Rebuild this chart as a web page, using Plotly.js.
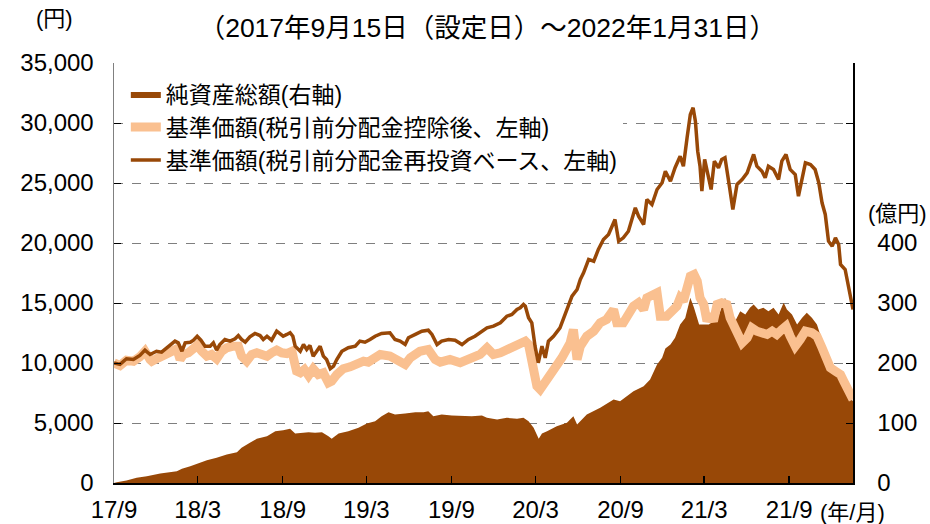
<!DOCTYPE html>
<html><head><meta charset="utf-8">
<script src="https://cdn.plot.ly/plotly-3.0.1.min.js"></script>
<style>html,body{margin:0;padding:0;background:#fff}#chart{width:930px;height:524px}</style>
</head><body><div id="chart"></div>
<script>
// Launch date and end date
const launchDate = '2017-09-15';
const endDate = '2022-01-31';

// 基準価額（税引前分配金再投資ベース） : days since launch / yen
const reinvDays = [
0,13,27,42,56,67,78,92,103,118,
132,139,147,154,165,172,180,188,197,208,
215,222,229,240,251,262,269,276,284,294,
305,316,323,331,341,352,359,366,374,381,
387,392,403,410,417,424,431,439,446,453,
460,468,475,482,493,507,522,532,543,554,
565,579,597,608,619,630,637,652,666,680,
688,699,709,724,738,753,767,781,796,807,
821,836,850,861,872,879,886,890,897,904,
911,918,926,933,940,951,965,980,991,1002,
1009,1016,1027,1038,1048,1059,1070,1084,1092,1102,
1113,1128,1135,1146,1153,1164,1175,1186,1193,1204,
1214,1225,1232,1240,1247,1253,1258,1263,1268,1272,
1278,1285,1292,1299,1308,1315,1322,1331,1339,1348,
1359,1370,1379,1384,1391,1402,1409,1416,1427,1438,
1445,1454,1463,1474,1481,1489,1496,1507,1517,1525,
1532,1539,1546,1554,1561,1568,1572,1582,1593,1599];
const reinvNav = [
10000,9880,10350,10290,10630,11070,10710,10980,10900,11400,
11820,11680,10980,11680,11730,11900,12230,11900,11400,11400,
11680,11070,11540,11960,11820,12020,12290,11960,11730,12180,
12460,12290,11960,12230,11900,12650,12430,12230,12380,12520,
12230,11400,10980,11540,11130,11460,10570,10980,11400,10570,
10290,9520,9730,10290,10980,11270,11400,11820,11730,11960,
12230,12460,12520,11960,11820,11540,12100,12380,12650,12730,
12380,11540,11820,11960,11900,11540,11960,12230,12650,12930,
13070,13350,13900,14040,14460,14600,14880,14730,13770,13350,
11400,10020,11400,10430,11820,12230,12930,14460,15570,16130,
16960,17520,18630,18480,19460,20290,20710,21960,20150,20430,
20980,22930,22230,21540,23630,23210,24460,25020,25980,25150,
26270,27230,26400,28770,30710,31270,30150,27650,26400,24320,
26960,25710,24460,26820,26270,26960,27100,24880,22790,24880,
25290,25850,26960,27380,26400,25980,25430,26400,26130,25290,
26820,27380,26130,25710,23900,25570,26680,26540,26130,25020,
23350,22380,20150,19730,20430,19880,18210,17790,15710,14460];

// 基準価額（税引前分配金控除後） : days since launch / yen
const navDays = [
0,13,27,42,56,67,78,82,96,110,
125,136,143,150,161,172,180,190,201,211,
222,233,244,258,269,276,287,298,309,320,
331,341,352,363,374,385,390,395,403,412,
421,431,442,453,464,471,482,496,511,525,
540,550,565,576,597,619,630,641,662,680,
695,706,727,749,771,792,807,821,836,854,
872,890,897,906,915,922,937,951,969,987,
994,1002,1009,1023,1038,1052,1066,1081,1088,1102,
1124,1135,1146,1153,1175,1182,1196,1218,1225,1232,
1240,1247,1255,1262,1268,1276,1283,1290,1297,1305,
1315,1326,1333,1341,1348,1359,1370,1380,1391,1402,
1413,1424,1434,1445,1454,1463,1474,1485,1496,1510,
1521,1532,1539,1550,1561,1572,1579,1590,1599];
const navValues = [
10000,9790,10230,10150,10520,10980,10290,10150,10430,10630,
10900,11180,10290,10710,10850,11130,11460,10980,10570,10710,
10350,10980,11270,11400,11400,10570,10150,10710,10850,10710,
10570,10850,11070,10850,10790,10980,10020,9320,9180,9460,
8960,9520,9040,9180,8350,8480,9040,9520,9680,9880,
10150,10070,10350,10710,10570,10150,9880,10430,10980,11130,
10290,10070,10290,10020,10430,10710,11270,10710,10850,11130,
11400,11820,11540,10020,8070,7790,8630,9320,10430,11680,
12790,10290,11400,12230,12650,13350,13630,14460,13350,13350,
14730,15020,14460,15430,15850,13900,13900,14730,15430,15150,
16270,17230,17380,16820,15430,14880,13480,14040,13480,14880,
15020,14880,13770,13210,12790,11680,12100,12930,12650,12520,
12380,12650,12380,12790,13070,12230,11400,11960,12650,12520,
12230,11270,10430,9600,9320,9040,8480,7650,6960];

// 純資産総額 : days since launch / 億円
const assetDays = [
0,6,27,49,71,100,136,147,165,186,
201,222,244,266,276,294,309,331,349,366,
381,392,406,421,435,450,464,471,486,507,
529,547,565,579,594,608,630,652,670,680,
691,709,731,753,774,796,807,829,850,872,
886,897,908,919,926,937,958,980,994,1002,
1023,1052,1081,1095,1124,1146,1160,1175,1186,1193,
1204,1214,1225,1236,1247,1255,1266,1276,1287,1297,
1308,1322,1333,1344,1355,1366,1376,1384,1394,1405,
1416,1427,1438,1449,1456,1467,1478,1489,1499,1510,
1521,1528,1539,1550,1561,1572,1582,1593,1599];
const assetValues = [
0,1.3,4.2,8.7,11.3,15.8,19.7,23.7,28,33.7,
38,42,47.5,51.3,58.7,67,73.7,78,86.3,88,
90.3,82.5,83.7,84.7,83.7,84.7,78,73.7,82.5,86.3,
92,99.2,103,111.3,118,114.2,115.8,118,118,119.7,
111.3,114.2,112.5,111.3,111.3,112.5,108.7,105.8,108.7,107,
108.7,103,92,73.7,82.5,86.3,94.7,100.3,111.3,97.5,
114.2,125.3,139.2,136.3,153,161.3,172.5,197.5,208.7,224,
230.8,242,264,275,308.7,292,264,264,264,269.7,
278,308.7,286.3,269.7,286.3,280.8,292,297.5,289.2,292,
286.3,292,280.8,300.3,289.2,280.8,264,275.3,283.7,275.3,
264,247.5,219.7,197.5,186.3,175.3,158.7,142,136.3];

// axis ticks
const xTickDates = ['2017-09-15','2018-03-15','2018-09-15','2019-03-15','2019-09-15','2020-03-15','2020-09-15','2021-03-15','2021-09-15'];
const xTickLabels = ['17/9','18/3','18/9','19/3','19/9','20/3','20/9','21/3','21/9'];
const rightTickVals = [0,100,200,300,400,500,600,700];
const rightTickLabels = ['0','100','200','300','400','','',''];

const names = ['純資産総額(右軸)','基準価額(税引前分配金控除後、左軸)','基準価額(税引前分配金再投資ベース、左軸)'];

const base = Date.UTC(2017,8,15);
const toDate = d => new Date(base + d*86400000).toISOString().slice(0,10);

const BROWN = '#984807', PEACH = '#FAC090';
const NUMF = 'Liberation Sans, Arial, sans-serif';
const JPF = 'Liberation Sans, Noto Sans CJK JP, sans-serif';

const traces = [
  {x: assetDays.map(toDate), y: assetValues, type:'scatter', mode:'lines', fill:'tozeroy',
   fillcolor: BROWN, line:{width:0, color:BROWN}, name:names[0], yaxis:'y', legendgroup:'a'},
  {x: navDays.map(toDate), y: navValues, type:'scatter', mode:'lines',
   line:{width:9, color:PEACH}, name:names[1], yaxis:'y2', legendgroup:'b'},
  {x: reinvDays.map(toDate), y: reinvNav, type:'scatter', mode:'lines',
   line:{width:3.5, color:BROWN}, name:names[2], yaxis:'y2', legendgroup:'c'}
];

const layout = {
  width:930, height:524,
  margin:{l:114, r:77, t:63, b:41},
  paper_bgcolor:'#fff', plot_bgcolor:'#fff',
  showlegend:true,
  title:{text:'（2017年9月15日（設定日）～2022年1月31日）', font:{family:JPF, size:26.5, color:'#000'},
         xref:'container', yref:'container', x:0.524, xanchor:'center', y:0.947, yanchor:'middle'},
  xaxis:{type:'date', range:[launchDate, endDate], tickvals:xTickDates, ticktext:xTickLabels,
         ticks:'inside', ticklen:7, tickwidth:1.5, tickcolor:'#000', showline:true, linecolor:'#000', linewidth:1.5,
         showgrid:false, zeroline:false, tickfont:{family:NUMF, size:24, color:'#000'}, ticklabelstandoff:5},
  yaxis:{side:'right', range:[0,700], tickvals:rightTickVals, ticktext:rightTickLabels,
         ticks:'inside', ticklen:7, tickcolor:'#000', showline:true, linecolor:'#000', linewidth:1.5,
         showgrid:false, zeroline:false, tickfont:{family:NUMF, size:24, color:'#000'}, ticklabelstandoff:18},
  yaxis2:{overlaying:'y', side:'left', range:[0,35000], dtick:5000, tickformat:',d',
         ticks:'inside', ticklen:7, tickcolor:'#000', showline:true, linecolor:'#808080', linewidth:1.5,
         showgrid:true, gridcolor:'#7f7f7f', griddash:'dash', gridwidth:1, zeroline:false,
         tickfont:{family:NUMF, size:24, color:'#000'}, ticklabelstandoff:14},
  legend:{x:0.016, y:0.977, xanchor:'left', yanchor:'top', bgcolor:'#fff', borderwidth:0,
          traceorder:'grouped', tracegroupgap:0, font:{family:JPF, size:23, color:'#000'}},
  annotations:[
    {text:'(円)', xref:'paper', yref:'paper', x:-0.080, y:1.106, showarrow:false, xanchor:'center', yanchor:'middle', font:{family:JPF, size:22, color:'#000'}},
    {text:'(億円)', xref:'paper', yref:'paper', x:1.06, y:0.642, showarrow:false, xanchor:'center', yanchor:'middle', font:{family:JPF, size:22, color:'#000'}},
    {text:'(年/月)', xref:'paper', yref:'paper', x:0.9995, y:-0.071, showarrow:false, xanchor:'center', yanchor:'middle', font:{family:JPF, size:22, color:'#000'}}
  ]
};

Plotly.newPlot('chart', traces, layout, {displayModeBar:false, staticPlot:true});
</script></body></html>
